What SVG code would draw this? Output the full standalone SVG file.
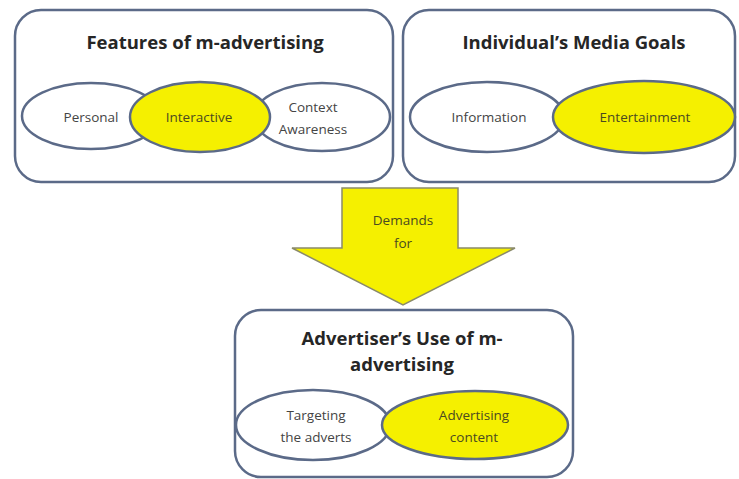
<svg xmlns="http://www.w3.org/2000/svg" width="739" height="479" viewBox="0 0 739 479">
<style>
.box{fill:#ffffff;stroke:#5b6a88;stroke-width:2.5}
.ell{fill:#ffffff;stroke:#5b6a88;stroke-width:2.5}
.yel{fill:#f5f000;stroke:#5b6a88;stroke-width:2.5}
.title{font-family:"Open Sans","Liberation Sans",sans-serif;font-weight:bold;font-size:18.5px;fill:#262626;text-anchor:middle}
.lbl{font-family:"Open Sans","Liberation Sans",sans-serif;font-size:13.5px;fill:#444444;text-anchor:middle}
.ylbl{font-family:"Open Sans","Liberation Sans",sans-serif;font-size:13.5px;fill:#4a4a20;text-anchor:middle}
</style>
<rect width="739" height="479" fill="#ffffff"/>
<g id="connectors">
<polygon points="342,188 458,188 458,248 515,248 403,305 292,248 342,248" fill="#f5f000" stroke="#8a8a6a" stroke-width="1.5"/>
<text class="ylbl" x="403" y="225">Demands</text>
<text class="ylbl" x="403" y="248">for</text>
</g>
<g id="features">
<rect class="box" x="15" y="10" width="378" height="172" rx="26"/>
<text class="title" x="205" y="49">Features of m-advertising</text>
<ellipse class="ell" cx="91" cy="116" rx="69" ry="33"/>
<ellipse class="ell" cx="322" cy="117" rx="68" ry="34"/>
<ellipse class="yel" cx="200" cy="117" rx="70" ry="35"/>
<text class="lbl" x="91" y="122">Personal</text>
<text class="ylbl" x="199" y="122">Interactive</text>
<text class="lbl" x="313" y="112">Context</text>
<text class="lbl" x="313" y="134">Awareness</text>
</g>
<g id="goals">
<rect class="box" x="403" y="10" width="332" height="172" rx="26"/>
<text class="title" x="574" y="49">Individual’s Media Goals</text>
<ellipse class="ell" cx="487" cy="117" rx="77" ry="35"/>
<ellipse class="yel" cx="644" cy="117" rx="91" ry="36"/>
<text class="lbl" x="489" y="122">Information</text>
<text class="ylbl" x="645" y="122">Entertainment</text>
</g>
<g id="advertiser">
<rect class="box" x="235" y="310" width="338" height="167" rx="26"/>
<text class="title" x="402" y="345">Advertiser’s Use of m-</text>
<text class="title" x="402" y="371">advertising</text>
<ellipse class="ell" cx="313" cy="425" rx="77" ry="35"/>
<ellipse class="yel" cx="475" cy="425" rx="93" ry="34"/>
<text class="lbl" x="316" y="420">Targeting</text>
<text class="lbl" x="316" y="442">the adverts</text>
<text class="ylbl" x="474" y="420">Advertising</text>
<text class="ylbl" x="474" y="442">content</text>
</g>
</svg>
